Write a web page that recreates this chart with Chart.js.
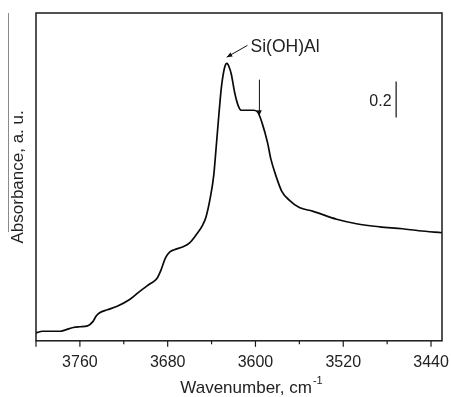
<!DOCTYPE html>
<html>
<head>
<meta charset="utf-8">
<script src="https://cdn.jsdelivr.net/npm/chart.js@4"></script>
<style>
  html, body { margin: 0; padding: 0; background: #fff; }
  #wrap { width: 451px; height: 397px; }
</style>
</head>
<body>
<div id="wrap"><canvas id="irChart"></canvas></div>
<script>
// IR spectrum (OH region)
const wavenumber = [3800, 3794, 3778, 3773, 3766, 3760, 3753, 3748, 3745, 3742,
    3735, 3726, 3715, 3706, 3696, 3690, 3686, 3682, 3678, 3674,
    3666, 3660, 3654, 3648, 3645, 3641, 3638, 3636, 3633, 3631,
    3628, 3626, 3624, 3622, 3619, 3616, 3613, 3607, 3602, 3598,
    3594, 3589, 3586, 3581, 3576, 3569, 3560, 3548, 3526, 3508,
    3487, 3466, 3451, 3430];
const absorbance = [0.044, 0.053, 0.053, 0.061, 0.074, 0.078, 0.083, 0.108, 0.139, 0.156,
    0.172, 0.192, 0.228, 0.272, 0.317, 0.344, 0.394, 0.461, 0.494, 0.506,
    0.522, 0.544, 0.589, 0.644, 0.689, 0.80, 0.92, 1.06, 1.28, 1.41,
    1.52, 1.54, 1.52, 1.48, 1.38, 1.31, 1.28, 1.28, 1.28, 1.27,
    1.21, 1.10, 1.01, 0.91, 0.83, 0.78, 0.74, 0.72, 0.675, 0.65,
    0.633, 0.622, 0.611, 0.60];
const tickValues = [3760, 3720, 3680, 3640, 3600, 3560, 3520, 3480, 3440];
const majorTicks = [3760, 3680, 3600, 3520, 3440];

const FONT = '"Liberation Sans", Arial, sans-serif';

const points = wavenumber.map(function (w, i) {
    return { x: w, y: absorbance[i] };
});

function arrow(ctx, x1, y1, x2, y2) {
    const ang = Math.atan2(y2 - y1, x2 - x1);
    const len = 6;
    ctx.beginPath();
    ctx.moveTo(x1, y1);
    ctx.lineTo(x2, y2);
    ctx.stroke();
    ctx.beginPath();
    ctx.moveTo(x2, y2);
    ctx.lineTo(x2 - len * Math.cos(ang - 0.4), y2 - len * Math.sin(ang - 0.4));
    ctx.lineTo(x2 - len * Math.cos(ang + 0.4), y2 - len * Math.sin(ang + 0.4));
    ctx.closePath();
    ctx.fill();
}

const decorations = {
    id: 'decorations',
    afterDraw(chart) {
        const ctx = chart.ctx;
        const a = chart.chartArea;
        const xs = chart.scales.x;
        const ys = chart.scales.y;
        const px = function (v) { return xs.getPixelForValue(v); };
        const py = function (v) { return ys.getPixelForValue(v); };
        ctx.save();

        // frame
        ctx.strokeStyle = '#1a1a1a';
        ctx.lineWidth = 1.5;
        ctx.strokeRect(a.left, a.top, a.right - a.left, a.bottom - a.top);

        // bottom ticks, long for labelled ones
        ctx.lineWidth = 1.2;
        tickValues.forEach(function (v) {
            const x = px(v);
            const len = majorTicks.indexOf(v) >= 0 ? 6 : 3.5;
            ctx.beginPath();
            ctx.moveTo(x, a.bottom);
            ctx.lineTo(x, a.bottom + len);
            ctx.stroke();
        });
        ctx.beginPath();
        ctx.moveTo(a.left, a.bottom);
        ctx.lineTo(a.left, a.bottom + 6);
        ctx.stroke();

        // faint scan line at the far left
        ctx.strokeStyle = '#8a8a8a';
        ctx.lineWidth = 1;
        ctx.beginPath();
        ctx.moveTo(8.5, a.top);
        ctx.lineTo(8.5, a.top + 219);
        ctx.stroke();

        // y label
        ctx.fillStyle = '#222';
        ctx.font = '17px ' + FONT;
        ctx.textAlign = 'center';
        ctx.textBaseline = 'alphabetic';
        ctx.save();
        ctx.translate(23, (a.top + a.bottom) / 2);
        ctx.rotate(-Math.PI / 2);
        ctx.fillText('Absorbance, a. u.', 0, 0);
        ctx.restore();

        // x title with superscript
        ctx.font = '17px ' + FONT;
        ctx.textAlign = 'left';
        const main = 'Wavenumber, cm';
        const mw = ctx.measureText(main).width;
        ctx.font = '11px ' + FONT;
        const sw = ctx.measureText('-1').width;
        const tx = (a.left + a.right) / 2 + 12 - (mw + sw) / 2;
        ctx.font = '17px ' + FONT;
        ctx.fillText(main, tx, a.bottom + 52);
        ctx.font = '11px ' + FONT;
        ctx.fillText('-1', tx + mw + 1, a.bottom + 43);

        // Si(OH)Al label and arrow
        ctx.strokeStyle = '#111';
        ctx.fillStyle = '#111';
        ctx.lineWidth = 1;
        arrow(ctx, px(3607.3), py(1.64), px(3626.2), py(1.575));
        ctx.font = '17.5px ' + FONT;
        ctx.fillStyle = '#222';
        ctx.textBaseline = 'middle';
        ctx.fillText('Si(OH)Al', px(3604.5), py(1.628));

        // shoulder arrow
        ctx.fillStyle = '#111';
        arrow(ctx, px(3596.4), py(1.45), px(3596.4), py(1.25));

        // 0.2 scale bar
        ctx.lineWidth = 1.2;
        ctx.beginPath();
        ctx.moveTo(px(3471.8), py(1.44));
        ctx.lineTo(px(3471.8), py(1.24));
        ctx.stroke();
        ctx.fillStyle = '#222';
        ctx.textAlign = 'right';
        ctx.font = '16px ' + FONT;
        ctx.fillText('0.2', px(3476), py(1.33));

        ctx.restore();
    }
};

new Chart(document.getElementById('irChart'), {
    type: 'scatter',
    data: {
        datasets: [{
            data: points,
            showLine: true,
            borderColor: '#0a0a0a',
            borderWidth: 1.7,
            pointRadius: 0,
            cubicInterpolationMode: 'monotone',
            fill: false
        }]
    },
    options: {
        responsive: true,
        maintainAspectRatio: false,
        animation: false,
        layout: { padding: { left: 36, right: 9, top: 13, bottom: 25 } },
        plugins: {
            legend: { display: false },
            tooltip: { enabled: false }
        },
        scales: {
            x: {
                type: 'linear',
                reverse: true,
                min: 3430,
                max: 3800,
                afterBuildTicks: function (scale) {
                    scale.ticks = tickValues.map(function (v) { return { value: v }; });
                },
                grid: {
                    display: true,
                    drawOnChartArea: false,
                    drawTicks: true,
                    tickLength: 12,
                    color: 'rgba(0,0,0,0)',
                    tickColor: 'rgba(0,0,0,0)'
                },
                border: { display: false },
                ticks: {
                    autoSkip: false,
                    maxRotation: 0,
                    padding: 0,
                    color: '#222',
                    font: { family: FONT, size: 16 },
                    callback: function (v) { return majorTicks.indexOf(v) >= 0 ? String(v) : ''; }
                }
            },
            y: {
                display: false,
                min: 0,
                max: 1.82
            }
        }
    },
    plugins: [decorations]
});
</script>
</body>
</html>
